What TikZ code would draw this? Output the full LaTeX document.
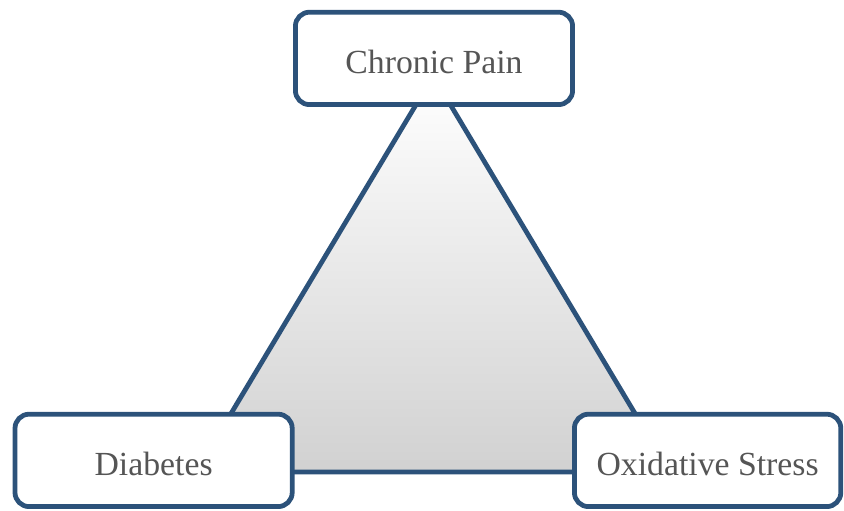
\documentclass[tikz,border=0pt]{standalone}
\usepackage{fontspec}
\setmainfont{Liberation Serif}
\usepackage{tikz}
\usetikzlibrary{positioning}
\definecolor{edgeblue}{RGB}{44,82,122}
\definecolor{labelgray}{RGB}{85,85,85}
\tikzset{
    topicbox/.style={
        rectangle,
        draw=edgeblue,
        line width=3.4pt,
        rounded corners=10pt,
        fill=white,
        minimum width=6.93cm,
        minimum height=2.31cm,
        text height=22pt,
        text depth=0pt,
        text=labelgray,
        font=\fontsize{24}{28}\selectfont
    },
    linkarea/.style={
        draw=edgeblue,
        line width=3.4pt,
        line join=round,
        top color=white,
        middle color=black!3,
        bottom color=black!18
    }
}

\begin{document}
\begin{tikzpicture}

\useasboundingbox (0,0) rectangle (21.1,12.75);

% triangle behind the boxes
\coordinate (apex) at (10.83,10.85);
\coordinate (lowleft) at (4.9,0.95);
\coordinate (lowright) at (16.75,0.95);
\path[linkarea] (apex) -- (lowleft) -- (lowright) -- cycle;

\node[topicbox] (pain) at (10.85,11.29) {Chronic Pain};
\node[topicbox] (diabetes) at (3.84,1.24) {Diabetes};
\node[topicbox, minimum width=6.66cm] (stress) at (17.69,1.24) {Oxidative Stress};

\end{tikzpicture}
\end{document}
